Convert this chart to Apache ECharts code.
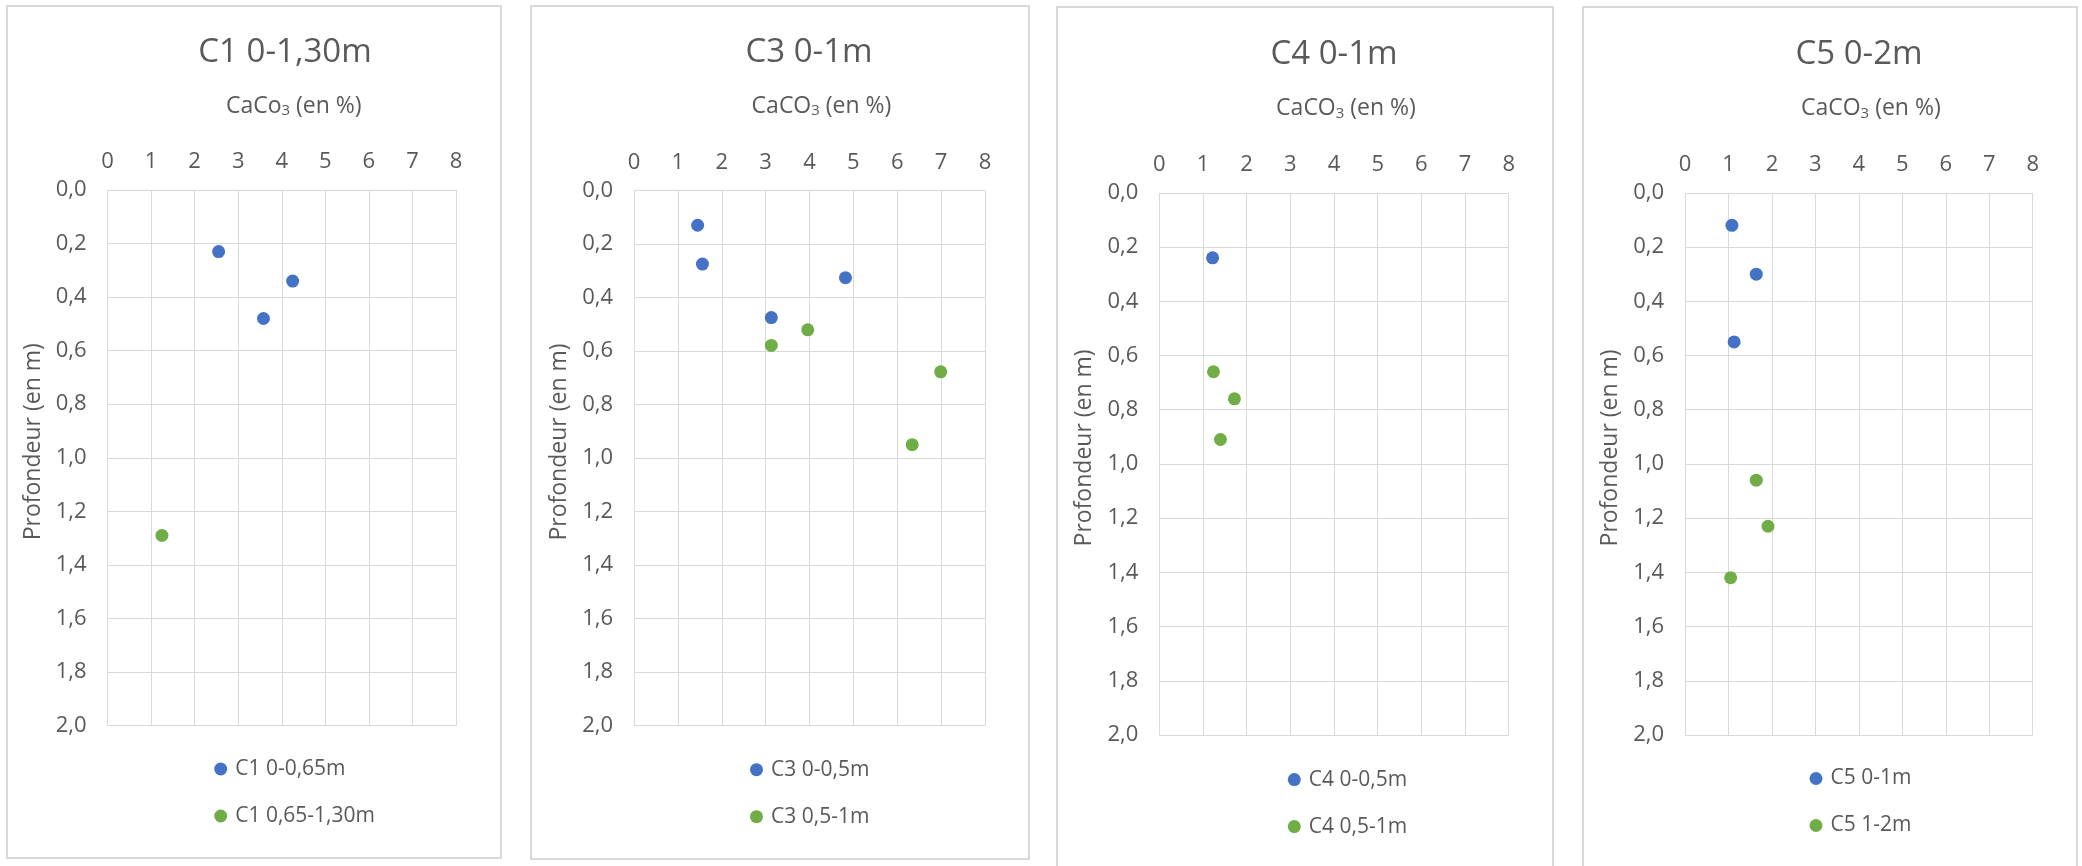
<!DOCTYPE html>
<html>
<head>
<meta charset="utf-8">
<script src="https://cdn.jsdelivr.net/npm/echarts@6/dist/echarts.min.js"></script>
<style>
html,body{margin:0;padding:0;background:#fff;}
#c{width:2082px;height:866px;}
</style>
</head>
<body>
<div id="c"></div>
<script>
// ---- data ----
const panelTitles = ['C1 0-1,30m', 'C3 0-1m', 'C4 0-1m', 'C5 0-2m'];
const xAxisNames = ['CaCo{sub|3} (en %)', 'CaCO{sub|3} (en %)', 'CaCO{sub|3} (en %)', 'CaCO{sub|3} (en %)'];
const yAxisName = 'Profondeur (en m)';
const seriesNames = [
  ['C1 0-0,65m', 'C1 0,65-1,30m'],
  ['C3 0-0,5m', 'C3 0,5-1m'],
  ['C4 0-0,5m', 'C4 0,5-1m'],
  ['C5 0-1m', 'C5 1-2m']
];
// [CaCO3 %, depth m]
const c1Upper = [[2.55, 0.23], [4.25, 0.34], [3.58, 0.48]];
const c1Lower = [[1.25, 1.29]];
const c3Upper = [[1.45, 0.13], [1.56, 0.275], [4.82, 0.326], [3.13, 0.475]];
const c3Lower = [[3.96, 0.521], [3.13, 0.579], [6.99, 0.678], [6.34, 0.95]];
const c4Upper = [[1.22, 0.24]];
const c4Lower = [[1.24, 0.66], [1.72, 0.76], [1.40, 0.91]];
const c5Upper = [[1.08, 0.12], [1.64, 0.30], [1.13, 0.55]];
const c5Lower = [[1.64, 1.06], [1.91, 1.23], [1.05, 1.42]];
const xTickLabels = ['0', '1', '2', '3', '4', '5', '6', '7', '8'];
const yTickLabels = ['0,0', '0,2', '0,4', '0,6', '0,8', '1,0', '1,2', '1,4', '1,6', '1,8', '2,0'];

const panelData = [[c1Upper, c1Lower], [c3Upper, c3Lower], [c4Upper, c4Lower], [c5Upper, c5Lower]];

// ---- layout ----
const grids = [
  {left: 107.5, top: 190, width: 348.5, height: 535.5},
  {left: 634, top: 190.5, width: 351, height: 535},
  {left: 1159.3, top: 192.8, width: 349.4, height: 542.2},
  {left: 1685, top: 192.8, width: 347.7, height: 542.2}
];
const frames = [
  {x: 7, y: 6, w: 494, h: 852},
  {x: 531, y: 6, w: 498, h: 853},
  {x: 1057, y: 7, w: 496, h: 880},
  {x: 1583, y: 7, w: 494, h: 880}
];
const titleCenters = [[280, 48.6], [804, 49], [1329, 50.8], [1854, 51]];
const legendPos = [[218.7, 767], [754.5, 767.7], [1292.3, 777.6], [1814, 776.5]];

const TXT = '#595959';
const GRID = '#d9d9d9';
const BLUE = '#4472C4';
const GREEN = '#70AD47';
const FONT = "'Open Sans', 'Liberation Sans', sans-serif";

const option = {
  backgroundColor: '#fff',
  animation: false,
  textStyle: {fontFamily: FONT},
  title: [], grid: [], xAxis: [], yAxis: [], series: [], legend: [],
  graphic: frames.map(f => ({
    type: 'rect', silent: true, z: -1,
    shape: {x: f.x, y: f.y, width: f.w, height: f.h},
    style: {fill: 'none', stroke: GRID, lineWidth: 2}
  }))
};

for (let i = 0; i < 4; i++) {
  option.title.push({
    text: panelTitles[i],
    left: titleCenters[i][0], top: titleCenters[i][1] - 18,
    textAlign: 'center',
    textStyle: {fontFamily: FONT, fontSize: 33, fontWeight: 'normal', color: TXT}
  });
  option.grid.push(Object.assign({containLabel: false}, grids[i]));
  option.xAxis.push({
    type: 'value', gridIndex: i, position: 'top',
    min: 0, max: 8, interval: 1,
    name: xAxisNames[i], nameLocation: 'middle', nameGap: 72,
    nameTextStyle: {
      fontFamily: FONT, fontSize: 23, color: TXT, padding: [0, 0, 0, 24],
      rich: {sub: {fontFamily: FONT, fontSize: 15, color: TXT, padding: [9, 0, 0, 0]}}
    },
    axisLine: {show: false}, axisTick: {show: false},
    axisLabel: {fontFamily: FONT, fontSize: 22, color: TXT, margin: 17,
      formatter: v => xTickLabels[Math.round(v)]},
    splitLine: {show: true, lineStyle: {color: GRID, width: 1}}
  });
  option.yAxis.push({
    type: 'value', gridIndex: i, inverse: true,
    min: 0, max: 2, interval: 0.2,
    name: yAxisName, nameLocation: 'middle', nameGap: 63,
    nameTextStyle: {fontFamily: FONT, fontSize: 23, color: TXT, padding: [0, 0, 0, 32]},
    axisLine: {show: false}, axisTick: {show: false},
    axisLabel: {fontFamily: FONT, fontSize: 22, color: TXT, margin: 21,
      formatter: v => yTickLabels[Math.round(v / 0.2)]},
    splitLine: {show: true, lineStyle: {color: GRID, width: 1}}
  });
  const cols = [BLUE, GREEN];
  for (let s = 0; s < 2; s++) {
    option.series.push({
      type: 'scatter', name: seriesNames[i][s],
      xAxisIndex: i, yAxisIndex: i,
      data: panelData[i][s],
      symbol: 'circle', symbolSize: 13,
      itemStyle: {color: cols[s], opacity: 1}
    });
  }
  option.legend.push({
    data: seriesNames[i].map(n => ({name: n, icon: 'circle'})),
    orient: 'vertical',
    left: legendPos[i][0] - 9.5, top: legendPos[i][1] - 13.5,
    itemWidth: 19, itemHeight: 13, itemGap: 26,
    selectedMode: false,
    itemStyle: {opacity: 1},
    textStyle: {fontFamily: FONT, fontSize: 21, color: TXT}
  });
}

const chart = echarts.init(document.getElementById('c'), null, {renderer: 'canvas', width: 2082, height: 866});
chart.setOption(option);
</script>
</body>
</html>
